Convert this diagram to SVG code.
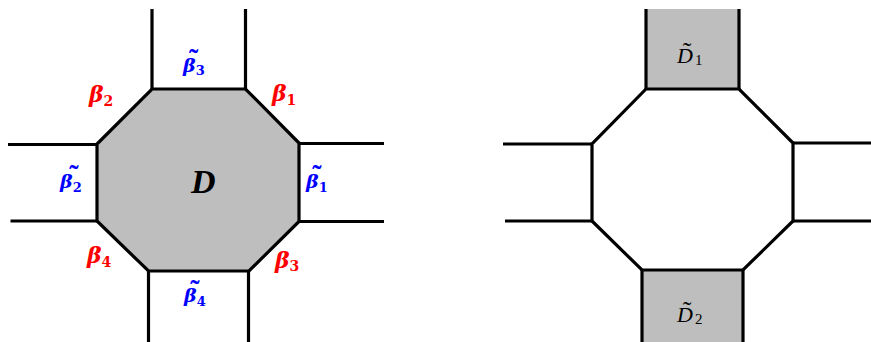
<svg xmlns="http://www.w3.org/2000/svg" width="871" height="342" viewBox="0 0 871 342">
<style>
.e{stroke:#000;stroke-width:3.2;fill:none;stroke-linecap:butt}
.f{fill:#bebebe;stroke:#000;stroke-width:3.2;stroke-linejoin:miter}
.g{fill:#bebebe}
.o{fill:none;stroke:#000;stroke-width:3.2;stroke-linejoin:miter}
.t{font-family:"DejaVu Serif","Liberation Serif",serif;font-style:italic;font-weight:bold}
.r{fill:#ff0000;font-size:22px}
.b{fill:#0000ff;font-size:19px}
.k{fill:#000}
.s{font-style:normal;font-size:14px}
.sb{font-style:normal;font-size:13px}
.tl{font-family:"Liberation Serif",serif;font-style:normal;font-size:28px}
.dt{font-family:"Liberation Serif","DejaVu Serif",serif;font-style:italic;font-size:22px;fill:#000}
.ds{font-style:normal;font-size:15px}
.dl{font-style:normal;font-size:26px}
</style>
<g id="left-domain">
<polygon class="f" points="152,89 245.5,89 299,143 299,221.5 249,271 148.5,271 97,221 97,144"/>
<text x="191" y="193" style="font-family:'Liberation Serif',serif;font-style:italic;font-weight:bold;font-size:34px">D</text>
</g>
<g id="left-edges">
<line class="e" x1="152" y1="9" x2="152" y2="89"/>
<line class="e" x1="245.5" y1="9" x2="245.5" y2="89"/>
<line class="e" x1="148.5" y1="271" x2="148.5" y2="342"/>
<line class="e" x1="248.5" y1="271" x2="248.5" y2="342"/>
<line class="e" x1="8" y1="144.5" x2="97" y2="144.5"/>
<line class="e" x1="10.5" y1="221" x2="97" y2="221"/>
<line class="e" x1="299" y1="143.5" x2="384" y2="143.5"/>
<line class="e" x1="299" y1="221.5" x2="384" y2="221.5"/>
</g>
<g id="left-labels">
<text class="t r" x="89" y="102">β<tspan class="s" dy="4">2</tspan></text>
<text class="t r" x="272" y="101">β<tspan class="s" dy="4">1</tspan></text>
<text class="t r" x="87" y="263">β<tspan class="s" dy="4">4</tspan></text>
<text class="t r" x="275" y="268">β<tspan class="s" dy="3">3</tspan></text>
<text class="t b" x="183" y="72">β<tspan class="sb" dy="3">3</tspan><tspan class="tl" x="189" y="68">˜</tspan></text>
<text class="t b" x="60" y="188">β<tspan class="sb" dy="4">2</tspan><tspan class="tl" x="69.3" y="183.5">˜</tspan></text>
<text class="t b" x="306" y="188">β<tspan class="sb" dy="4">1</tspan><tspan class="tl" x="312.3" y="183.5">˜</tspan></text>
<text class="t b" x="184" y="302">β<tspan class="sb" dy="4">4</tspan><tspan class="tl" x="190.3" y="298.5">˜</tspan></text>
</g>
<g id="right-top-domain">
<rect class="g" x="646" y="9" width="93" height="80"/>
<line class="e" x1="646" y1="9" x2="646" y2="89"/>
<line class="e" x1="739" y1="9" x2="739" y2="89"/>
<text class="dt" x="677" y="63">D<tspan class="ds" dx="2" dy="2">1</tspan><tspan class="dl" x="682.7" y="59.6">˜</tspan></text>
</g>
<g id="right-bottom-domain">
<rect class="g" x="642" y="270" width="101" height="72"/>
<line class="e" x1="642" y1="270" x2="642" y2="342"/>
<line class="e" x1="743" y1="270" x2="743" y2="342"/>
<text class="dt" x="677" y="322">D<tspan class="ds" dx="2" dy="2">2</tspan><tspan class="dl" x="682.7" y="318.6">˜</tspan></text>
</g>
<g id="right-octagon">
<polygon class="o" points="646,89 739,89 793,143 793,221 743,270 642,270 592,221 592,144"/>
</g>
<g id="right-edges">
<line class="e" x1="503" y1="144" x2="592" y2="144"/>
<line class="e" x1="505" y1="221" x2="592" y2="221"/>
<line class="e" x1="793" y1="143" x2="871" y2="143"/>
<line class="e" x1="793" y1="221" x2="871" y2="221"/>
</g>
</svg>
